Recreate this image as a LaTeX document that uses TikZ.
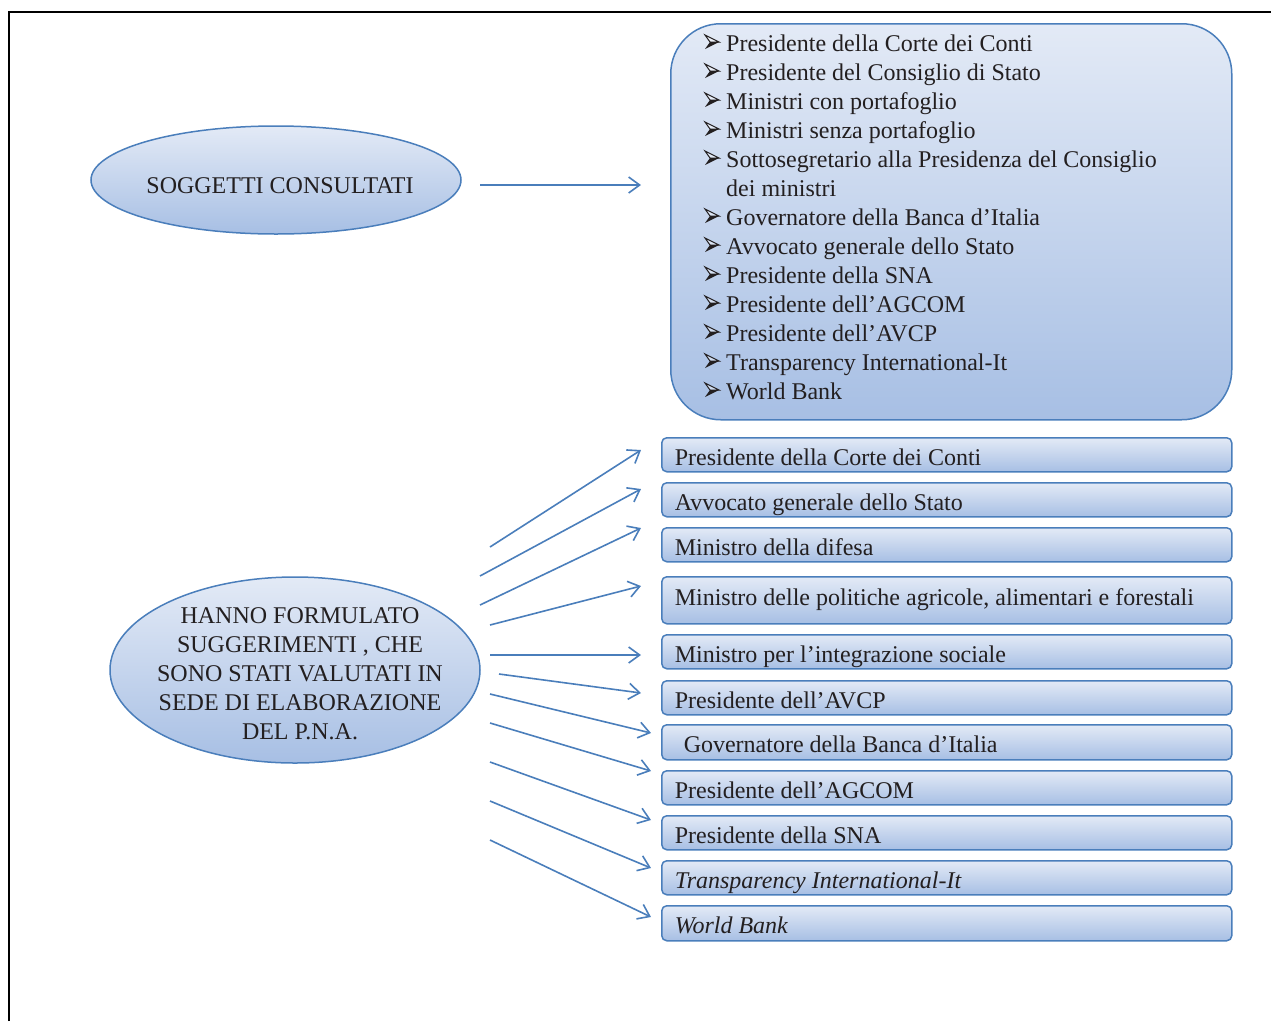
\documentclass[tikz,border=0pt]{standalone}
\usepackage{fontspec}
\setmainfont{Liberation Serif}
\usetikzlibrary{shapes.geometric,arrows.meta}
\definecolor{edge}{HTML}{4A7EBB}
\definecolor{filltop}{HTML}{E3EAF6}
\definecolor{fillbot}{HTML}{A7BFE4}
\definecolor{ink}{HTML}{231F20}
\begin{document}
\begin{tikzpicture}[x=1pt,y=-1pt,
  every node/.style={font=\fontsize{24}{29}\selectfont, text=ink},
  shaded/.style={draw=edge, line width=1.5pt, top color=filltop, bottom color=fillbot},
  oval/.style={shaded, ellipse, inner sep=0pt},
  itembox/.style={shaded, rounded corners=5pt, anchor=north west, inner xsep=13pt, inner ysep=0pt,
     text width=544pt, align=flush left, text height=28pt, text depth=6pt},
  line/.style={anchor=base west, inner sep=0pt},
  arr/.style={draw=edge, line width=1.6pt, -{Straight Barb[length=11pt,width=16pt]}},
  bulletmark/.pic={
    \draw[ink, line width=1pt, line join=miter, fill=white, fill opacity=0.4] (2,-16) -- (16,-9) -- (7,-9) -- cycle;
    \fill[ink] (16,-9) -- (2,-2) -- (7,-9) -- cycle;
  }
]
\useasboundingbox (0,0) rectangle (1271,1021);
\coordinate (fbl) at (9,1021);
\coordinate (ftl) at (9,12);
\coordinate (ftr) at (1271,12);
\draw[line width=1.5pt, black] (fbl) -- (ftl) -- (ftr);

% top part
\node[oval, minimum width=370pt, minimum height=108pt] (e1) at (276,180) {};
\node (t1) at (280,186) {SOGGETTI CONSULTATI};
\coordinate (a0s) at (480,185);
\coordinate (a0e) at (641,185);
\draw[arr] (a0s) -- (a0e);

\node[shaded, rounded corners=50pt, anchor=north west, minimum width=561pt, minimum height=396pt, inner sep=0pt] (bigbox) at (670,23) {};
\foreach \y/\t [count=\k] in {
  51/Presidente della Corte dei Conti,
  80/Presidente del Consiglio di Stato,
  109/Ministri con portafoglio,
  138/Ministri senza portafoglio,
  167/Sottosegretario alla Presidenza del Consiglio,
  225/Governatore della Banca d’Italia,
  254/Avvocato generale dello Stato,
  283/Presidente della SNA,
  312/Presidente dell’AGCOM,
  341/Presidente dell’AVCP,
  370/Transparency International-It,
  399/World Bank}{
  \pic at (703,\y) {bulletmark};
  \node[line] (li\k) at (726,\y) {\t};
}
\node[line] (li5b) at (726,196) {dei ministri};

% bottom part
\node[oval, minimum width=370pt, minimum height=186pt] (e2) at (295,670) {};
\node[align=center] (t2) at (300,674) {HANNO FORMULATO\\SUGGERIMENTI , CHE\\SONO STATI VALUTATI IN\\SEDE DI ELABORAZIONE\\DEL P.N.A.};

\node[itembox] (b1) at (661,437) {Presidente della Corte dei Conti};
\node[itembox] (b2) at (661,482) {Avvocato generale dello Stato};
\node[itembox] (b3) at (661,527) {Ministro della difesa};
\node[itembox, text height=29pt, text depth=18pt] (b4) at (661,576) {Ministro delle politiche agricole, alimentari e forestali};
\node[itembox] (b5) at (661,634) {Ministro per l’integrazione sociale};
\node[itembox] (b6) at (661,680) {Presidente dell’AVCP};
\node[itembox, text depth=7pt] (b7) at (661,724) {\hspace*{9pt}Governatore della Banca d’Italia};
\node[itembox] (b8) at (661,770) {Presidente dell’AGCOM};
\node[itembox] (b9) at (661,815) {Presidente della SNA};
\node[itembox] (b10) at (661,860) {\textit{Transparency International-It}};
\node[itembox, text depth=7pt] (b11) at (661,905) {\textit{World Bank}};

\foreach \sx/\sy/\ex/\ey [count=\i] in {
  490/547/641/450, 480/576/641/489, 480/605/641/528, 490/625/641/586,
  490/655/641/655, 499/674/641/693, 490/694/651/733, 490/723/651/771,
  490/762/651/820, 490/801/651/868, 490/840/651/917}{
  \coordinate (s\i) at (\sx,\sy);
  \coordinate (d\i) at (\ex,\ey);
  \draw[arr] (s\i) -- (d\i);
}
\end{tikzpicture}
\end{document}
